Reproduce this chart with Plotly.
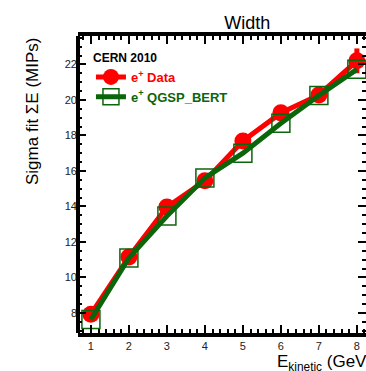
import plotly.graph_objects as go

# Shower width vs. beam kinetic energy, CERN 2010 test beam
energy = [1, 2, 3, 4, 5, 6, 7, 8]
data_sigma = [7.93, 11.15, 13.97, 15.44, 17.69, 19.27, 20.28, 22.2]
data_err = [0.15, 0.15, 0.2, 0.15, 0.2, 0.2, 0.2, 0.7]
sim_sigma = [7.63, 11.1, 13.46, 15.6, 17.0, 18.68, 20.25, 21.72]

x_ticks = [1, 2, 3, 4, 5, 6, 7, 8]
y_ticks = [8, 10, 12, 14, 16, 18, 20, 22]

RED = "#ff0000"
GREEN = "#0b650b"
FONT = "Liberation Sans, Arial, Helvetica, sans-serif"

fig = go.Figure()

fig.add_trace(go.Scatter(
    x=energy, y=data_sigma,
    mode="lines+markers",
    name=f"<b><span style='color:{RED}'>e<sup>+</sup> Data</span></b>",
    line=dict(color=RED, width=5),
    marker=dict(symbol="circle", size=17, color=RED),
    error_y=dict(type="data", array=data_err, color=RED, thickness=5, width=0),
))

fig.add_trace(go.Scatter(
    x=energy, y=sim_sigma,
    mode="lines+markers",
    name=f"<b><span style='color:{GREEN}'>e<sup>+</sup> QGSP_BERT</span></b>",
    line=dict(color=GREEN, width=5),
    marker=dict(symbol="square-open", size=18, color=GREEN,
                line=dict(color=GREEN, width=1.5)),
))

fig.update_layout(
    width=366, height=371,
    margin=dict(l=78, r=0, t=36, b=38),
    paper_bgcolor="white", plot_bgcolor="white",
    font=dict(family=FONT, color="black", size=11),
    showlegend=True,
    legend=dict(
        x=0.045, y=0.965, xanchor="left", yanchor="top",
        bgcolor="rgba(0,0,0,0)", borderwidth=0,
        title=dict(text="<b>CERN 2010</b>", font=dict(size=12, color="black")),
        font=dict(size=13),
        itemwidth=30,
        tracegroupgap=0,
    ),
    title=dict(text="Width", x=215 / 366, xref="paper", xanchor="center",
               y=1 - 23 / 371, yref="container", yanchor="middle",
               font=dict(size=18, family=FONT)),
)

fig.update_xaxes(
    range=[0.66, 8.24],
    tickvals=x_ticks, ticktext=[str(v) for v in x_ticks],
    ticks="inside", ticklen=8, tickwidth=1.5, tickcolor="black",
    minor=dict(dtick=0.2, tick0=0, ticks="inside", ticklen=4,
               tickwidth=1.5, tickcolor="black"),
    showline=True, linewidth=4, linecolor="black", mirror="ticks",
    showgrid=False, zeroline=False,
    ticklabelstandoff=0,
    tickfont=dict(size=11, color="#222"),
)

fig.update_yaxes(
    range=[6.87, 23.6],
    tickvals=y_ticks, ticktext=[str(v) for v in y_ticks],
    ticks="inside", ticklen=8, tickwidth=1.5, tickcolor="black",
    minor=dict(dtick=0.5, tick0=0, ticks="inside", ticklen=4,
               tickwidth=1.5, tickcolor="black"),
    showline=False, mirror="ticks",
    showgrid=False, zeroline=False,
    tickfont=dict(size=11, color="#222"),
)

# left frame edge
fig.add_shape(type="line", xref="paper", yref="paper",
              x0=0, x1=0, y0=0, y1=1,
              line=dict(color="black", width=4))

# axis titles
fig.add_annotation(
    text="Sigma fit \u03a3E (MIPs)", textangle=-90,
    xref="paper", yref="paper",
    x=(33 - 78) / 288, y=1 - (112 - 36) / 297,
    xanchor="center", yanchor="middle", showarrow=False,
    font=dict(size=17, family=FONT, color="black"),
)
fig.add_annotation(
    text="E<sub>kinetic</sub> (GeV)",
    xref="paper", yref="paper",
    x=(275 - 78) / 288, y=-(363 - 333) / 297,
    xanchor="left", yanchor="middle", showarrow=False,
    font=dict(size=17, family=FONT, color="black"),
)

fig.write_html("out.html")
